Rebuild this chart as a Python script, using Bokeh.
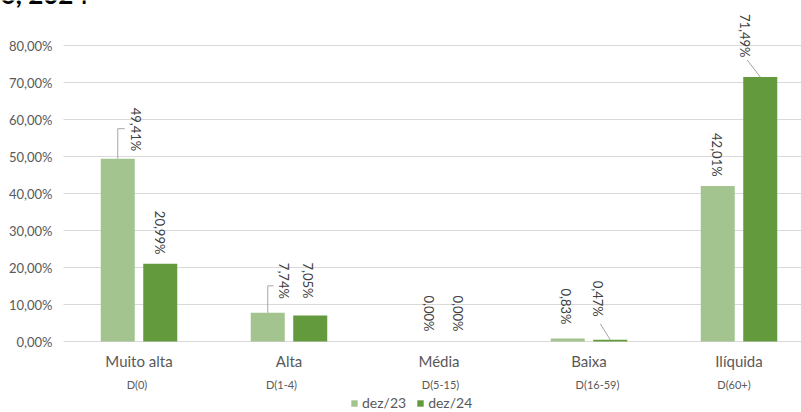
import math
from bokeh.plotting import figure
from bokeh.models import Range1d, ColumnDataSource, Legend, LegendItem
from bokeh.core.properties import value
from bokeh.embed import file_html
from bokeh.resources import INLINE

# ---------------- data ----------------
categories = ["Muito alta", "Alta", "Média", "Baixa", "Ilíquida"]
buckets = ["D(0)", "D(1-4)", "D(5-15)", "D(16-59)", "D(60+)"]
series_names = ["dez/23", "dez/24"]
dez23 = [49.41, 7.74, 0.00, 0.83, 42.01]
dez24 = [20.99, 7.05, 0.00, 0.47, 71.49]
y_ticks = [0, 10, 20, 30, 40, 50, 60, 70, 80]
title_text = "dezembro, 2024"

# ---------------- layout / style ----------------
W, H = 801, 412
LEFT = 63             # left edge of plot area (px)
LABEL_RIGHT = 52      # right edge of y tick labels (px)
PX_X = 150.0          # pixels per category
PX_Y = 3.7            # pixels per percentage point
ZERO_PX = 341         # pixel row of 0 %
FIRST_PX = 138.5      # pixel column of first category center
FONT = "Lato"
C23 = "#A3C48F"
C24 = "#629A3D"
TXT = "#595959"
LBL = "#404040"
GRID = "#D9D9D9"
LEAD = "#A6A6A6"
BAR_OFF = 21.25 / PX_X
BAR_W = 34 / PX_X

# label offsets in pixels (dx, distance above bar top) per series
lab23_dx = [18, 16, 11, -2, -1]
lab23_up = [51, 50, 46, 50, 53]
lab24_dx = [0, -2, -2, -12, -15]
lab24_up = [53, 53, 46, 59, 63]
bucket_dx = [-2, -7.5, 1.5, 8.5, -5]


def x_at(px):
    return (px - FIRST_PX) / PX_X


def y_at(py):
    return (ZERO_PX - py) / PX_Y


p = figure(width=W, height=H, output_backend="svg", toolbar_location=None,
           x_range=Range1d(x_at(0), x_at(W)), y_range=Range1d(y_at(H), y_at(0)),
           x_axis_location=None, y_axis_location=None,
           min_border_left=0, min_border_right=0, min_border_top=0, min_border_bottom=0)
p.outline_line_color = None
p.background_fill_color = "white"
p.border_fill_color = "white"
p.xgrid.visible = False
p.ygrid.visible = False

# gridlines and y tick labels
n = len(y_ticks)
p.segment(x0=[x_at(LEFT)] * n, x1=[x_at(W)] * n, y0=y_ticks, y1=y_ticks,
          line_color=GRID, line_width=1)
p.text(x=[x_at(LABEL_RIGHT)] * n, y=y_ticks,
       text=[f"{t:.2f}".replace(".", ",") + "%" for t in y_ticks],
       text_align="right", text_baseline="middle", text_font=value(FONT),
       text_font_size="13px", text_color=TXT)

idx = list(range(len(categories)))
x23 = [i - BAR_OFF for i in idx]
x24 = [i + BAR_OFF for i in idx]
src = ColumnDataSource(dict(
    x23=x23, x24=x24, dez23=dez23, dez24=dez24,
    t23=[f"{v:.2f}".replace(".", ",") + "%" for v in dez23],
    t24=[f"{v:.2f}".replace(".", ",") + "%" for v in dez24],
    dx23=lab23_dx, dx24=lab24_dx,
    up23=[-u for u in lab23_up], up24=[-u for u in lab24_up],
))

r23 = p.vbar(x="x23", top="dez23", bottom=0, width=BAR_W, source=src,
             fill_color=C23, line_color=None)
r24 = p.vbar(x="x24", top="dez24", bottom=0, width=BAR_W, source=src,
             fill_color=C24, line_color=None)

for xs, top_col, ts, dxs, ups in (("x23", "dez23", "t23", "dx23", "up23"),
                                  ("x24", "dez24", "t24", "dx24", "up24")):
    p.text(x=xs, y=top_col, text=ts, source=src, angle=-math.pi / 2,
           x_offset=dxs, y_offset=ups, text_align="left", text_baseline="middle",
           text_font=value(FONT), text_font_size="13px", text_color=LBL)


def px2dx(px):
    return px / PX_X


def px2dy(px):
    return px / PX_Y


# leader lines
lx, ly = [], []
i = 0
lx.append([x23[i], x23[i], x23[i] + px2dx(7)])
ly.append([dez23[i], dez23[i] + px2dy(30), dez23[i] + px2dy(30)])
i = 1
lx.append([x23[i], x23[i], x23[i] + px2dx(6)])
ly.append([dez23[i], dez23[i] + px2dy(27), dez23[i] + px2dy(27)])
i = 3
lx.append([x24[i], x24[i] - px2dx(10)])
ly.append([dez24[i], dez24[i] + px2dy(16)])
i = 4
lx.append([x24[i], x24[i] - px2dx(13)])
ly.append([dez24[i], dez24[i] + px2dy(17)])
p.multi_line(xs=lx, ys=ly, line_color=LEAD, line_width=1)

# category labels
p.text(x=idx, y=[0] * len(idx), text=categories, y_offset=19,
       text_align="center", text_baseline="middle", text_font=value(FONT),
       text_font_size="15px", text_color=TXT)
p.text(x=[i + px2dx(d) for i, d in zip(idx, bucket_dx)], y=[0] * len(idx), text=buckets,
       y_offset=43, text_align="center", text_baseline="middle", text_font=value(FONT),
       text_font_size="11px", text_color=TXT)

# cut-off title at the very top (only its lower edge shows, as in the source)
p.text(x=[x_at(88)], y=[y_at(-7)], text=[title_text], text_align="right",
       text_baseline="alphabetic", text_font=value(FONT), text_font_style="bold",
       text_font_size="26px", text_color="black")

legend = Legend(items=[LegendItem(label=series_names[0], renderers=[r23]),
                       LegendItem(label=series_names[1], renderers=[r24])],
                orientation="horizontal", location=(350, 1),
                glyph_width=8, glyph_height=8, label_text_font=FONT,
                label_text_font_size="14px", label_text_color=TXT,
                label_standoff=4, spacing=10, padding=0, margin=0,
                border_line_color=None, background_fill_alpha=0)
p.add_layout(legend)

open("out.html", "w").write(file_html(p, INLINE))
